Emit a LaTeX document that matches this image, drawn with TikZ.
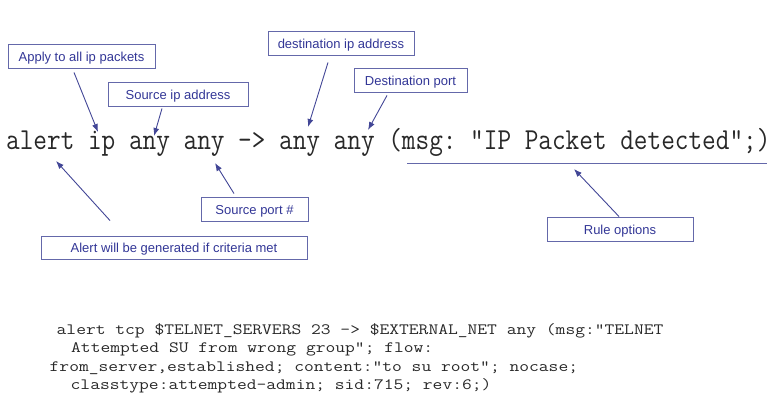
\documentclass[tikz,border=0pt]{standalone}
\usepackage{fontspec}
\setmainfont{Liberation Sans}
\usetikzlibrary{arrows,arrows.meta,positioning}
\definecolor{boxline}{RGB}{100,104,170}
\definecolor{labeltext}{RGB}{50,54,150}
\definecolor{arrowblue}{RGB}{66,70,150}
\definecolor{ruleink}{RGB}{40,40,40}

\begin{document}
\begin{tikzpicture}[x=1pt,y=-1pt,
  note box/.style={rectangle,draw=boxline,line width=0.9pt,text=labeltext,font=\fontsize{13}{15}\selectfont,minimum height=24pt,inner sep=0pt,text height=11pt,text depth=0pt},
  pointer/.style={-{Latex[length=8pt,width=6pt]},draw=arrowblue,line width=0.9pt},
  rule text/.style={inner sep=0pt,anchor=base west,text=ruleink,font=\ttfamily\frenchspacing\fontsize{26.5}{28}\selectfont},
  code text/.style={inner sep=0pt,anchor=base west,text=ruleink,font=\ttfamily\frenchspacing\fontsize{19}{20}\selectfont}]
  \useasboundingbox (0,0) rectangle (781,403);
  % boxes round the rule
  \node [note box, minimum width=147pt] (apply) at (81.5,56) {Apply to all ip packets};
  \node [note box, minimum width=140pt] (srcip) at (178,94) {Source ip address};
  \node [note box, minimum width=146pt] (dstip) at (341,43) {destination ip address};
  \node [note box, minimum width=113pt] (dstport) at (410.5,80) {Destination port};
  \node [note box, minimum width=107pt] (srcport) at (254.5,209) {Source port \#};
  \node [note box, minimum width=266pt, minimum height=23pt] (alertbox) at (174,247.5) {Alert will be generated if criteria met};
  \node [note box, minimum width=146pt] (options) at (620,229) {Rule options};

  % the rule itself
  \node [rule text] (rule) at (6,150) {\scalebox{1}[1.15]{alert ip any any -> any any (msg: "IP Packet detected";)}};
  \draw [boxline, line width=0.9pt] (407,163) -- (767,163);

  \coordinate (ip tip) at (98,132);
  \coordinate (srcip tip) at (154,136);
  \coordinate (dstip tip) at (308,127);
  \coordinate (dstport tip) at (368,130);
  \coordinate (srcport tip) at (215,163);
  \coordinate (alert tip) at (56,161);
  \coordinate (options tip) at (574,169);

  \draw [pointer] ([xshift=-7.5pt,yshift=-4pt]apply.south) -- (ip tip);
  \draw [pointer] ([xshift=-16pt,yshift=-2pt]srcip.south) -- (srcip tip);
  \draw [pointer] ([xshift=-13pt,yshift=-7pt]dstip.south) -- (dstip tip);
  \draw [pointer] ([xshift=-23.5pt,yshift=-3pt]dstport.south) -- (dstport tip);
  \draw [pointer] ([xshift=-20.5pt,yshift=3pt]srcport.north) -- (srcport tip);
  \draw [pointer] ([xshift=-64pt,yshift=15pt]alertbox.north) -- (alert tip);
  \draw [pointer] ([xshift=-1pt]options.north) -- (options tip);

  % example rule
  \node [code text] (code1) at (56.5,334) {\scalebox{1}[0.83]{alert tcp \$TELNET\_SERVERS 23 -> \$EXTERNAL\_NET any (msg:"TELNET}};
  \node [code text] (code2) at (71,352) {\scalebox{1}[0.83]{Attempted SU from wrong group"; flow:}};
  \node [code text] (code3) at (49.5,371) {\scalebox{1}[0.83]{from\_server,established; content:"to su root"; nocase;}};
  \node [code text] (code4) at (70.5,389) {\scalebox{1}[0.83]{classtype:attempted-admin; sid:715; rev:6;)}};
\end{tikzpicture}
\end{document}
